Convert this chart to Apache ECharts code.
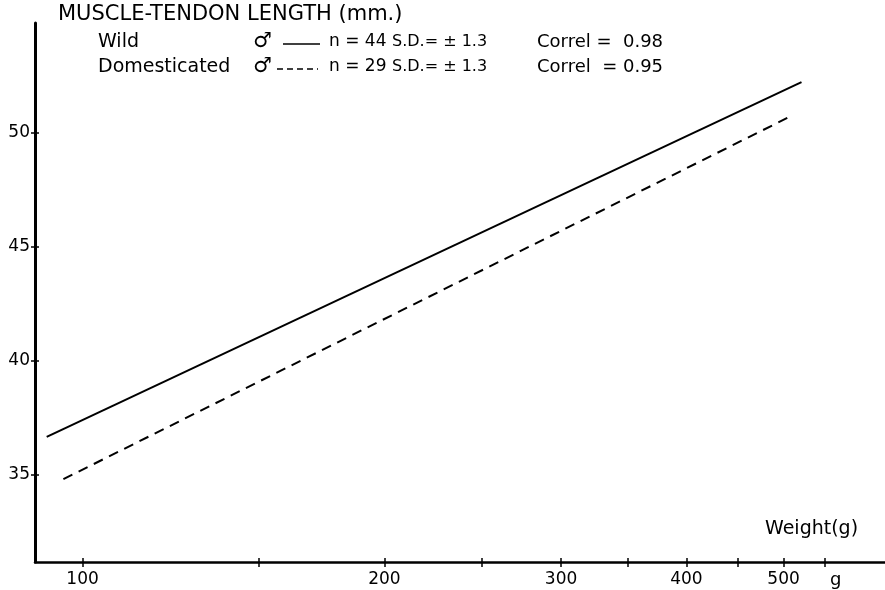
<!DOCTYPE html>
<html>
<head>
<meta charset="utf-8">
<script src="https://cdn.jsdelivr.net/npm/echarts@6/dist/echarts.min.js"></script>
<style>
html,body{margin:0;padding:0;background:#fff;}
#chart{width:885px;height:590px;}
</style>
</head>
<body>
<div id="chart"></div>
<script>
// ---- data ----
const weightTicks = [100, 150, 200, 250, 300, 350, 400, 450, 500, 550];
const weightLabels = [100, 200, 300, 400, 500];
const lengthTicks = [35, 40, 45, 50];
const wildWeight = [92.1, 521];
const wildLength = [36.65, 52.2];
const domWeight = [95.7, 508];
const domLength = [34.8, 50.7];

const FONT = '"DejaVu Sans", sans-serif';
const lg = v => Math.log10(v);
const toPts = (ws, ls) => ws.map((w, i) => [lg(w), ls[i]]);

const XMIN = 1.9526, XMAX = 2.8001;
const YMIN = 31.17, YMAX = 54.79;
const GRID = {left: 35, right: 0, top: 23, bottom: 28};
const GW = 885 - GRID.left - GRID.right;
const GH = 590 - GRID.top - GRID.bottom;

const chart = echarts.init(document.getElementById('chart'), null, {renderer: 'canvas'});

const xBase = {type: 'value', min: XMIN, max: XMAX, splitLine: {show: false}};
const yBase = {type: 'value', min: YMIN, max: YMAX, splitLine: {show: false}};

chart.setOption({
  animation: false,
  backgroundColor: '#fff',
  grid: Object.assign({containLabel: false}, GRID),
  xAxis: [
    Object.assign({}, xBase, {
      position: 'bottom',
      axisLine: {show: true, onZero: false, lineStyle: {color: '#000', width: 2.5}},
      axisTick: {show: true, length: 5, lineStyle: {color: '#000', width: 1.5},
                 customValues: weightTicks.map(lg)},
      axisLabel: {show: true, color: '#000', fontSize: 17, fontFamily: FONT, margin: 9,
                  customValues: weightLabels.map(lg),
                  formatter: v => String(Math.round(Math.pow(10, v)))}
    }),
    Object.assign({}, xBase, {
      position: 'top', offset: -GH,
      axisLine: {show: false, onZero: false},
      axisTick: {show: true, length: 4, lineStyle: {color: '#000', width: 1.5},
                 customValues: weightTicks.map(lg)},
      axisLabel: {show: false}
    })
  ],
  yAxis: [
    Object.assign({}, yBase, {
      position: 'left',
      axisLine: {show: true, onZero: false, lineStyle: {color: '#000', width: 3}},
      axisTick: {show: true, length: 4, lineStyle: {color: '#000', width: 1.5},
                 customValues: lengthTicks},
      axisLabel: {show: true, color: '#000', fontSize: 17, fontFamily: FONT, margin: 5,
                  customValues: lengthTicks}
    }),
    Object.assign({}, yBase, {
      position: 'right', offset: -GW,
      axisLine: {show: false, onZero: false},
      axisTick: {show: true, length: 4, lineStyle: {color: '#000', width: 1.5},
                 customValues: lengthTicks},
      axisLabel: {show: false}
    })
  ],
  series: [
    {
      name: 'Wild', type: 'line', xAxisIndex: 0, yAxisIndex: 0,
      data: toPts(wildWeight, wildLength), symbol: 'none',
      lineStyle: {color: '#000', width: 2, type: 'solid'}
    },
    {
      name: 'Domesticated', type: 'line', xAxisIndex: 0, yAxisIndex: 0,
      data: toPts(domWeight, domLength), symbol: 'none',
      lineStyle: {color: '#000', width: 2, type: [10, 7]}
    }
  ],
  graphic: [
    {type: 'text', x: 58, y: 15, style: {text: 'MUSCLE-TENDON LENGTH (mm.)', font: '21px ' + FONT, fill: '#000', verticalAlign: 'middle'}},
    {type: 'text', x: 98, y: 42, style: {text: 'Wild', font: '19px ' + FONT, fill: '#000', verticalAlign: 'middle'}},
    {type: 'text', x: 253, y: 42, style: {text: '♂', font: '21px ' + FONT, fill: '#000', verticalAlign: 'middle'}},
    {type: 'line', shape: {x1: 283, y1: 44, x2: 320, y2: 44}, style: {stroke: '#000', lineWidth: 1.5}},
    {type: 'text', x: 329, y: 42, style: {text: 'n = 44', font: '17px ' + FONT, fill: '#000', verticalAlign: 'middle'}},
    {type: 'text', x: 392, y: 42, style: {text: 'S.D.= ± 1.3', font: '16px ' + FONT, fill: '#000', verticalAlign: 'middle'}},
    {type: 'text', x: 537, y: 42, style: {text: 'Correl =  0.98', font: '18px ' + FONT, fill: '#000', verticalAlign: 'middle'}},
    {type: 'text', x: 98, y: 67, style: {text: 'Domesticated', font: '19px ' + FONT, fill: '#000', verticalAlign: 'middle'}},
    {type: 'text', x: 253, y: 67, style: {text: '♂', font: '21px ' + FONT, fill: '#000', verticalAlign: 'middle'}},
    {type: 'line', shape: {x1: 277, y1: 69, x2: 318, y2: 69}, style: {stroke: '#000', lineWidth: 1.5, lineDash: [6, 4]}},
    {type: 'text', x: 329, y: 67, style: {text: 'n = 29', font: '17px ' + FONT, fill: '#000', verticalAlign: 'middle'}},
    {type: 'text', x: 392, y: 67, style: {text: 'S.D.= ± 1.3', font: '16px ' + FONT, fill: '#000', verticalAlign: 'middle'}},
    {type: 'text', x: 537, y: 67, style: {text: 'Correl  = 0.95', font: '18px ' + FONT, fill: '#000', verticalAlign: 'middle'}},
    {type: 'text', x: 765, y: 529, style: {text: 'Weight(g)', font: '19px ' + FONT, fill: '#000', verticalAlign: 'middle'}},
    {type: 'text', x: 830, y: 580, style: {text: 'g', font: '18px ' + FONT, fill: '#000', verticalAlign: 'middle'}}
  ]
});
</script>
</body>
</html>
